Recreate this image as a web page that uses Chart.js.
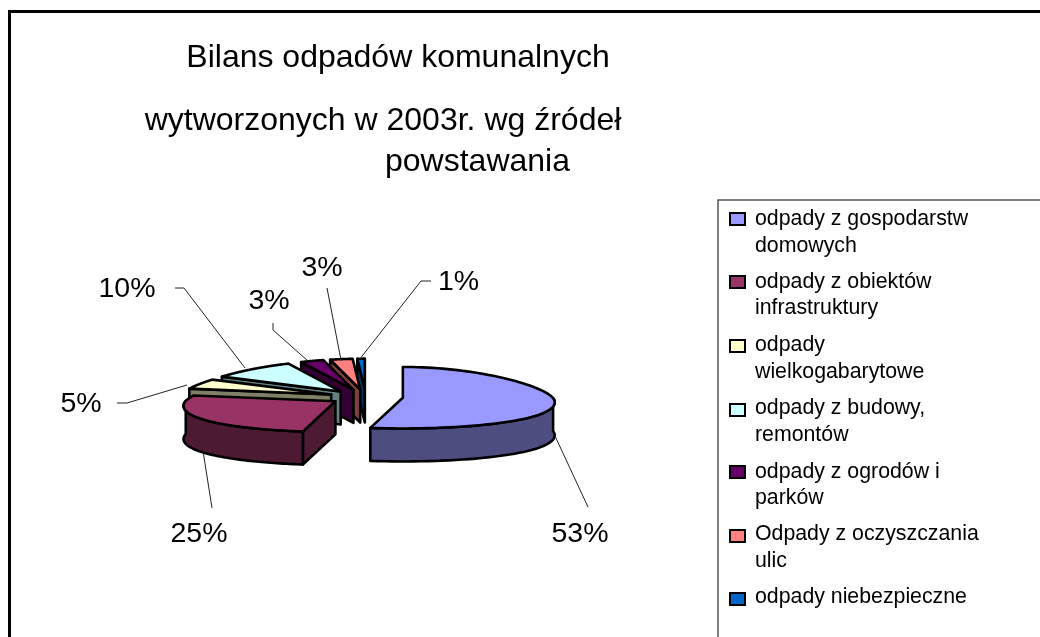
<!DOCTYPE html>
<html><head><meta charset="utf-8">
<style>html,body{margin:0;padding:0;background:#fff}canvas{display:block}#w{width:1040px;height:637px}</style>
<script src="https://cdn.jsdelivr.net/npm/chart.js@4/dist/chart.umd.min.js"></script>
</head><body><div id="w"><canvas id="c" width="1040" height="637"></canvas></div>
<script>
const categories = ['odpady z gospodarstw domowych','odpady z obiektów infrastruktury','odpady wielkogabarytowe','odpady z budowy, remontów','odpady z ogrodów i parków','Odpady z oczyszczania ulic','odpady niebezpieczne'];
const values = [53,25,5,10,3,3,1];
const legendLines = [['odpady z gospodarstw','domowych'],['odpady z obiektów','infrastruktury'],['odpady','wielkogabarytowe'],['odpady z budowy,','remontów'],['odpady z ogrodów i','parków'],['Odpady z oczyszczania','ulic'],['odpady niebezpieczne']];
const titleLines = ['Bilans odpadów komunalnych','wytworzonych w 2003r. wg źródeł','powstawania'];
const topColors = ['#9999FF','#993366','#FFFFCC','#CCFFFF','#660066','#FF8080','#0066CC'];
const sideColors = ['#4D4D80','#4D1A33','#808066','#668080','#330033','#804040','#003366'];

const titlePos = [[398,58],[383,121],[477.5,162]];
const labelPos = [[580,534],[199,534],[81,404],[127,289],[269,301],[322,268],[458.5,282]];
const leaders = [
 [[555,436],[588,507]],
 [[203,451],[212,508]],
 [[187,385],[127,403],[117,403]],
 [[245,368],[184,288],[175,288]],
 [[308,361],[273,330],[273,323]],
 [[341,360],[327,288]],
 [[359,360],[421,281],[431,281]]
];
const legendY = [[219,246],[282,308],[345,372],[408,435],[472,498],[534,561],[597]];
const swatchY = [213,276,340,404,466,530,593];
const RATIO = 0.205, DEPTH = 33;

// simple perspective: the back of the disc is narrower than the front
function persp(c){ return c>0 ? 1-0.2*c : 1-0.16*c; }

const scene3d = {
  id:'scene3d',
  beforeDraw(chart){
    const ctx = chart.ctx;
    ctx.save();
    ctx.fillStyle='#fff'; ctx.fillRect(0,0,1040,637);
    ctx.strokeStyle='#000'; ctx.lineWidth=3; ctx.lineCap='butt';
    ctx.beginPath(); ctx.moveTo(9.5,637); ctx.lineTo(9.5,11.5); ctx.lineTo(1040,11.5); ctx.stroke();
    ctx.strokeStyle='#555'; ctx.lineWidth=1.5;
    ctx.beginPath(); ctx.moveTo(718,637); ctx.lineTo(718,200); ctx.lineTo(1040,200); ctx.stroke();
    ctx.restore();
  },
  beforeDatasetDraw(chart){
    const ctx = chart.ctx, meta = chart.getDatasetMeta(0);
    const pts = (el)=>{
      const p = el.getProps(['x','y','startAngle','endAngle','outerRadius'],true);
      const d = el.options.offset||0, mid=(p.startAngle+p.endAngle)/2;
      const cx = p.x+Math.cos(mid)*d, cy = p.y+Math.sin(mid)*d*RATIO;
      const at = a=>{ const s=Math.cos(a), c=-Math.sin(a);
        return [cx+p.outerRadius*s*persp(c), cy-p.outerRadius*c*RATIO, c]; };
      return {cx,cy,at,start:p.startAngle,end:p.endAngle};
    };
    const poly=(list,fill)=>{ ctx.beginPath(); list.forEach((q,i)=>i?ctx.lineTo(q[0],q[1]):ctx.moveTo(q[0],q[1])); ctx.closePath();
      ctx.fillStyle=fill; ctx.fill(); ctx.stroke(); };
    ctx.save(); ctx.lineWidth=2.6; ctx.strokeStyle='#000'; ctx.lineJoin='round';
    for(let i=meta.data.length-1;i>=0;i--){
      const el=meta.data[i], g=pts(el), N=80, rim=[];
      for(let k=0;k<=N;k++) rim.push(g.at(g.start+(g.end-g.start)*k/N));
      const normalC=-Math.sin(g.start-Math.PI/2);
      if(normalC<0){ const q=rim[0];
        poly([[g.cx,g.cy],q,[q[0],q[1]+DEPTH],[g.cx,g.cy+DEPTH]],sideColors[i]); }
      const endNormalC=-Math.sin(g.end+Math.PI/2);
      if(endNormalC<0){ const q=rim[N];
        poly([[g.cx,g.cy],q,[q[0],q[1]+DEPTH],[g.cx,g.cy+DEPTH]],sideColors[i]); }
      const front=rim.filter(q=>q[2]<=0.02);
      if(front.length>1){
        poly(front.concat(front.slice().reverse().map(q=>[q[0],q[1]+DEPTH])),sideColors[i]);
      }
      poly([[g.cx,g.cy]].concat(rim),topColors[i]);
    }
    ctx.restore();
    return false;
  },
  afterDraw(chart){
    const ctx = chart.ctx;
    ctx.save();
    ctx.fillStyle='#000'; ctx.textBaseline='middle'; ctx.textAlign='center';
    ctx.font='32px "Liberation Sans"';
    titleLines.forEach((t,i)=>ctx.fillText(t,titlePos[i][0],titlePos[i][1]));
    ctx.font='28.5px "Liberation Sans"';
    const total=values.reduce((a,b)=>a+b,0);
    values.forEach((v,i)=>ctx.fillText(Math.round(v/total*100)+'%',labelPos[i][0],labelPos[i][1]));
    ctx.strokeStyle='#222'; ctx.lineWidth=1;
    leaders.forEach(l=>{ctx.beginPath();l.forEach((q,i)=>i?ctx.lineTo(q[0],q[1]):ctx.moveTo(q[0],q[1]));ctx.stroke();});
    ctx.textAlign='left'; ctx.font='21.3px "Liberation Sans"';
    legendLines.forEach((ls,i)=>{
      ctx.fillStyle=topColors[i]; ctx.strokeStyle='#000'; ctx.lineWidth=2;
      ctx.fillRect(730,swatchY[i],15,12); ctx.strokeRect(730,swatchY[i],15,12);
      ctx.fillStyle='#000';
      ls.forEach((t,j)=>ctx.fillText(t,755,legendY[i][j]));
    });
    ctx.restore();
  }
};

new Chart(document.getElementById('c'),{
  type:'pie',
  data:{labels:categories,datasets:[{data:values,backgroundColor:topColors,borderWidth:0,offset:37,clip:false}]},
  options:{responsive:false,animation:false,radius:150,
    layout:{padding:{left:10,right:318,top:299,bottom:142}},
    plugins:{legend:{display:false},title:{display:false},tooltip:{enabled:false}}},
  plugins:[scene3d]
});
</script></body></html>
